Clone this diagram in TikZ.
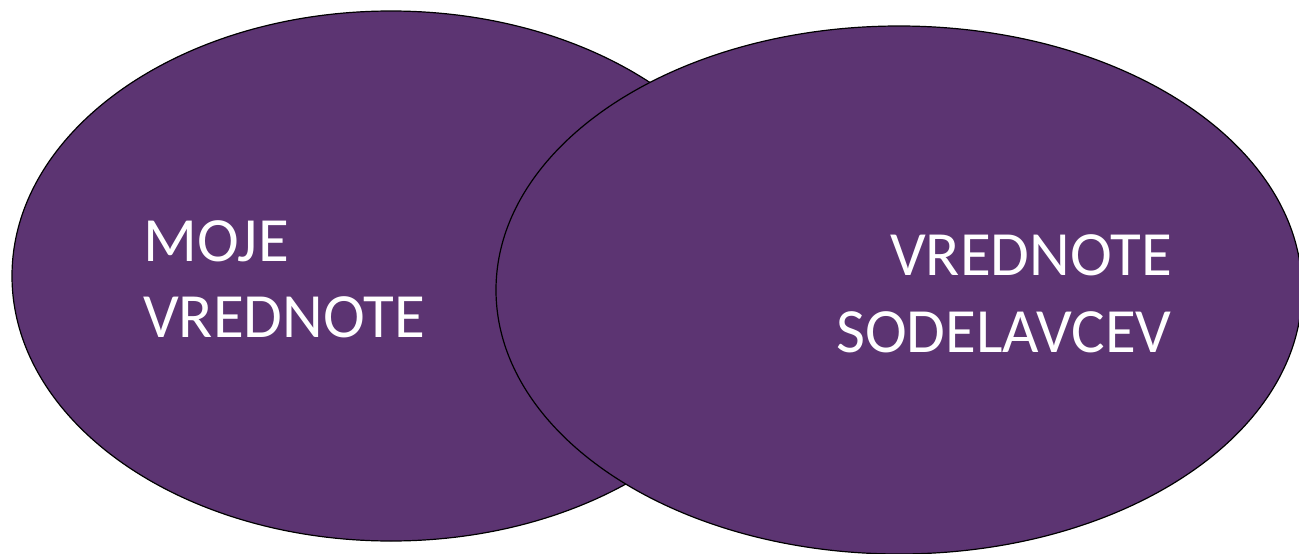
\documentclass[tikz,border=0pt]{standalone}
\usepackage{fontspec}
\setmainfont{Carlito}
\usetikzlibrary{shapes.geometric}
\definecolor{setpurple}{RGB}{92,52,114}
\tikzset{
  setellipse/.style={ellipse, draw=black, line width=1.2pt, fill=setpurple, inner sep=0pt, outer sep=0pt},
  settext/.style={text=white, inner sep=0pt, font=\fontsize{63}{76}\selectfont}
}
\begin{document}
\begin{tikzpicture}[x=1pt,y=-1pt]
\useasboundingbox (0,0) rectangle (1299,554);
\node[setellipse, minimum width=758pt, minimum height=530pt] (left) at (391,276) {};
\node[setellipse, minimum width=806pt, minimum height=528pt] (right) at (899,290) {};
\node[settext, anchor=base west] (l1) at (143,261) {MOJE};
\node[settext, anchor=base west] (l2) at (143,337) {VREDNOTE};
\node[settext, anchor=base east] (r1) at (1172,275) {VREDNOTE};
\node[settext, anchor=base east] (r2) at (1172,352) {SODELAVCEV};
\end{tikzpicture}
\end{document}
